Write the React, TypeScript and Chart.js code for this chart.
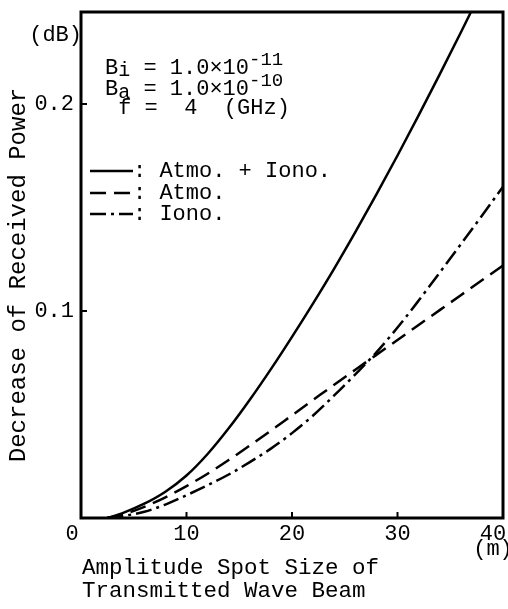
import React, { useEffect, useRef } from "react";
import { Chart, registerables } from "chart.js";

Chart.register(...registerables);

// ---- data ----
const spotSize = [2.5, 4, 6, 8, 10, 12, 14, 16, 18, 20, 22, 24, 26, 28, 30, 32, 34, 36, 38, 40];
const atmoIono = [0, 0.0025, 0.0069, 0.0127, 0.0205, 0.0309, 0.0433, 0.0571, 0.0719, 0.0875, 0.1037, 0.1205, 0.1381, 0.1563, 0.1751, 0.1945, 0.2143, 0.2345, 0.2551, 0.2761];
const atmo = [0, 0.0018, 0.0054, 0.0100, 0.0154, 0.0214, 0.0280, 0.0350, 0.0422, 0.0496, 0.0570, 0.0644, 0.0716, 0.0788, 0.0860, 0.0932, 0.1004, 0.1076, 0.1148, 0.1220];
const iono = [0, 0.0010, 0.0030, 0.0065, 0.0110, 0.0158, 0.0210, 0.0270, 0.0335, 0.0410, 0.0495, 0.0592, 0.0694, 0.0800, 0.0920, 0.1050, 0.1185, 0.1322, 0.1460, 0.1600];

const xTickValues = [0, 10, 20, 30, 40];
const xTickLabels = ["0", "10", "20", "30", "40"];
const yTickValues = [0.1, 0.2];
const yTickLabels = ["0.1", "0.2"];

const seriesLabels = [": Atmo. + Iono.", ": Atmo.", ": Iono."];
const yTitle = "Decrease of Received Power";
const xTitleLines = ["Amplitude Spot Size of", "Transmitted Wave Beam"];

const FONT = '"Liberation Mono", "DejaVu Sans Mono", monospace';
const DASHES: number[][] = [[], [16, 8], [16, 5, 3, 5]];

function toPts(ys: number[]) {
  return spotSize.map((x, i) => ({ x, y: ys[i] }));
}

type Seg = { t: string; dy?: number; size?: number };

function drawRich(ctx: CanvasRenderingContext2D, segs: Seg[], x: number, y: number, base: number) {
  let cx = x;
  for (const s of segs) {
    ctx.font = `${s.size ?? base}px ${FONT}`;
    ctx.fillText(s.t, cx, y + (s.dy ?? 0));
    cx += ctx.measureText(s.t).width;
  }
}

const decorPlugin = {
  id: "decor",
  afterDraw(chart: any) {
    const ctx: CanvasRenderingContext2D = chart.ctx;
    const { left, right, top, bottom } = chart.chartArea;
    const xs = chart.scales.x;
    const ys = chart.scales.y;
    ctx.save();
    ctx.fillStyle = "#000";
    ctx.strokeStyle = "#000";
    // frame
    ctx.lineWidth = 3;
    ctx.setLineDash([]);
    ctx.strokeRect(left, top, right - left, bottom - top);
    // inward ticks
    ctx.lineWidth = 2;
    ctx.beginPath();
    xTickValues.slice(1, -1).forEach((v) => {
      const px = xs.getPixelForValue(v);
      ctx.moveTo(px, bottom);
      ctx.lineTo(px, bottom - 6);
    });
    yTickValues.forEach((v) => {
      const py = ys.getPixelForValue(v);
      ctx.moveTo(left, py);
      ctx.lineTo(left + 6, py);
    });
    ctx.stroke();

    // tick labels
    ctx.font = `22px ${FONT}`;
    ctx.textBaseline = "middle";
    ctx.textAlign = "center";
    xTickValues.forEach((v, i) => {
      let px = xs.getPixelForValue(v);
      if (i === 0) px -= 9;
      if (i === xTickValues.length - 1) px -= 10;
      ctx.fillText(xTickLabels[i], px, bottom + 16);
    });
    ctx.fillText("(m)", xs.getPixelForValue(40) - 10, bottom + 31);
    ctx.textAlign = "right";
    yTickValues.forEach((v, i) => {
      ctx.fillText(yTickLabels[i], left - 7, ys.getPixelForValue(v));
    });
    ctx.fillText("(dB)", left + 1, top + 23);

    // axis titles
    ctx.textAlign = "left";
    ctx.font = `22.5px ${FONT}`;
    ctx.fillText(xTitleLines[0], left + 1, bottom + 50);
    ctx.fillText(xTitleLines[1], left + 1, bottom + 73);
    ctx.save();
    ctx.translate(19, 275);
    ctx.rotate(-Math.PI / 2);
    ctx.textAlign = "center";
    ctx.font = `24px ${FONT}`;
    ctx.fillText(yTitle, 0, 0);
    ctx.restore();

    // parameters
    ctx.textAlign = "left";
    ctx.textBaseline = "alphabetic";
    const bx = left + 24;
    drawRich(ctx, [{ t: "B" }, { t: "i", dy: 2, size: 20 }, { t: " = 1.0×10" }, { t: "-11", dy: -9, size: 19 }], bx, 74, 22);
    drawRich(ctx, [{ t: "B" }, { t: "a", dy: 3, size: 20 }, { t: " = 1.0×10" }, { t: "-10", dy: -9, size: 19 }], bx, 95, 22);
    drawRich(ctx, [{ t: " f =  4  (GHz)" }], bx, 114, 22);

    // legend
    const ly = [171, 193, 214];
    ctx.lineWidth = 2.5;
    seriesLabels.forEach((lab, i) => {
      ctx.setLineDash(DASHES[i]);
      ctx.beginPath();
      ctx.moveTo(left + 9, ly[i]);
      ctx.lineTo(left + 52, ly[i]);
      ctx.stroke();
      ctx.setLineDash([]);
      ctx.font = `22px ${FONT}`;
      ctx.textBaseline = "middle";
      ctx.fillText(lab, left + 52, ly[i]);
    });
    ctx.restore();
  },
};

export default function App() {
  const ref = useRef<HTMLCanvasElement | null>(null);
  useEffect(() => {
    if (!ref.current) return;
    const mk = (data: number[], i: number) => ({
      data: toPts(data),
      borderColor: "#000",
      borderWidth: 2.5,
      borderDash: DASHES[i],
      pointRadius: 0,
      fill: false,
      cubicInterpolationMode: "monotone" as const,
    });
    const chart = new Chart(ref.current, {
      type: "line",
      data: {
        datasets: [mk(atmoIono, 0), mk(atmo, 1), mk(iono, 2)],
      },
      options: {
        animation: false,
        responsive: false,
        layout: { padding: { left: 81, top: 12, right: 5, bottom: 91 } },
        plugins: { legend: { display: false }, tooltip: { enabled: false } },
        scales: {
          x: { type: "linear", min: 0, max: 40, display: false },
          y: { type: "linear", min: 0, max: 0.2444, display: false },
        },
      },
      plugins: [decorPlugin],
    });
    return () => chart.destroy();
  }, []);
  return (
    <div style={{ position: "absolute", left: 0, top: 0, width: 508, height: 609, background: "#fff" }}>
      <canvas ref={ref} width={508} height={609} />
    </div>
  );
}
